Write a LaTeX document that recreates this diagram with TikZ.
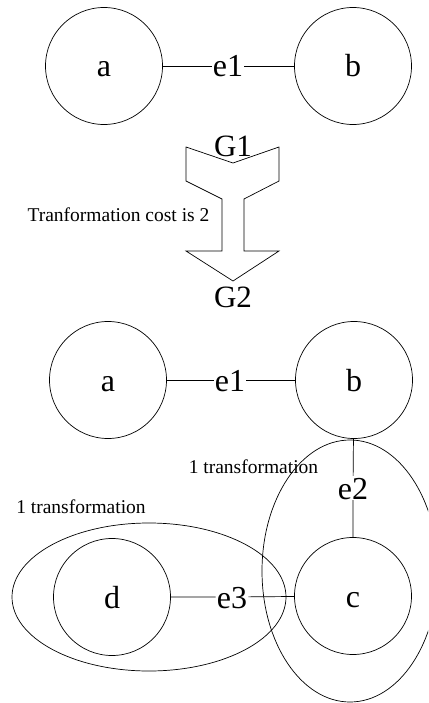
\documentclass[tikz,border=0pt]{standalone}
\usepackage{fontspec}
\setmainfont{Liberation Serif}
\begin{document}
\begin{tikzpicture}[x=1pt,y=-1pt,
  vert/.style={draw,circle,minimum size=117pt,inner sep=0pt,line width=0.7pt,text height=22pt,text depth=0pt,font=\fontsize{32}{36}\selectfont},
  elab/.style={inner sep=1pt,text height=22pt,text depth=0pt,font=\fontsize{32}{36}\selectfont},
  glab/.style={inner sep=0pt,font=\fontsize{31}{36}\selectfont},
  small/.style={inner sep=0pt,font=\fontsize{19.5}{22}\selectfont},
  edge/.style={line width=0.7pt},
  group/.style={draw,line width=0.7pt}]
\useasboundingbox (0,0) rectangle (428,703);
\clip (0,0) rectangle (428,703);
% top graph
\node[vert] (a1) at (104,66) {a};
\node[vert] (b1) at (353,66) {b};
\node[elab] (e1) at (228,66) {e1};
\draw[edge] (a1) -- (e1) -- (b1);
% transformation arrow
\draw[line width=0.7pt,line join=miter] (186,147) -- (233,163) -- (279,147) -- (279,181) -- (244,199) -- (244,251) -- (279,251) -- (233,281) -- (186,251) -- (222,251) -- (222,199) -- (186,181) -- cycle;
\node[glab] (g1) at (233,146) {G1};
\node[glab] (g2) at (233,297) {G2};
\node[small] (cost) at (118.5,215) {Tranformation cost is 2};
% bottom graph
\node[vert] (a2) at (108,380) {a};
\node[vert] (b2) at (354,380) {b};
\node[elab] (e1b) at (230,380) {e1};
\node[elab] (e2) at (353,488) {e2};
\node[vert] (c) at (353,596) {c};
\node[vert] (d) at (112,597) {d};
\node[elab] (e3) at (232,597) {e3};
\draw[edge] (a2) -- (e1b) -- (b2);
\draw[edge] (b2) -- (e2) -- (c);
\draw[edge] (d) -- (e3) -- (c);
% groups
\draw[group] (149,597) ellipse [x radius=137, y radius=74];
\draw[group] (350,571) ellipse [x radius=88, y radius=131];
\node[small] (t1) at (81,507) {1 transformation};
\node[small] (t2) at (253.5,467) {1 transformation};
\end{tikzpicture}
\end{document}
